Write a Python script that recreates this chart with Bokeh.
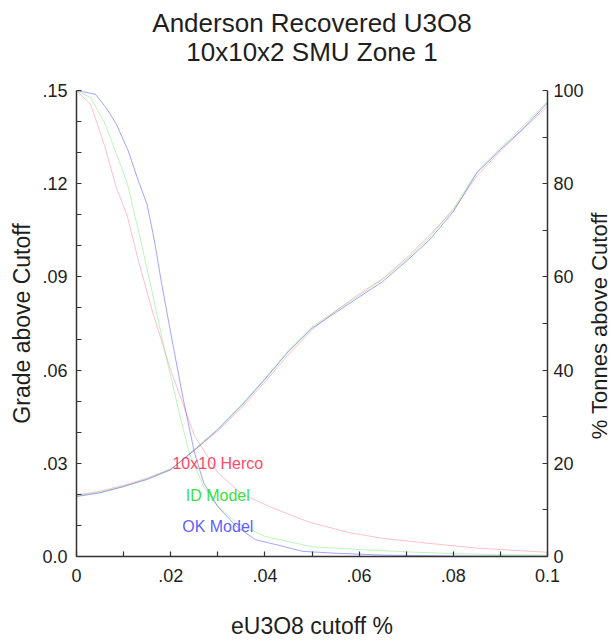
import math
from bokeh.plotting import figure
from bokeh.layouts import row
from bokeh.models import Range1d, LinearAxis, FixedTicker, Title, ColumnDataSource
from bokeh.embed import file_html
from bokeh.resources import INLINE
from bokeh.core.properties import value

# ---------------- data ----------------
x_ticks = [0, 0.02, 0.04, 0.06, 0.08, 0.1]
x_tick_labels = ["0", ".02", ".04", ".06", ".08", "0.1"]
x_minor_ticks = [0.01, 0.03, 0.05, 0.07, 0.09]
grade_ticks = [0, 0.03, 0.06, 0.09, 0.12, 0.15]
grade_tick_labels = ["0.0", ".03", ".06", ".09", ".12", ".15"]
grade_minor_ticks = [0.01, 0.02, 0.04, 0.05, 0.07, 0.08, 0.1, 0.11, 0.13, 0.14]
tonnes_ticks = [0, 20, 40, 60, 80, 100]
tonnes_tick_labels = ["0", "20", "40", "60", "80", "100"]
tonnes_minor_ticks = [10, 30, 50, 70, 90]

# Grade above cutoff (left axis)
grade_cutoff = [0, 0.005, 0.01, 0.015, 0.02, 0.0225, 0.025, 0.0275, 0.03, 0.035, 0.04,
                0.045, 0.05, 0.055, 0.06, 0.065, 0.07, 0.075, 0.08, 0.085, 0.09, 0.095, 0.1]
ok_grade = [0.0193, 0.0205, 0.0225, 0.0248, 0.0279, 0.0310, 0.0342, 0.0375, 0.0408, 0.0485,
            0.0570, 0.0660, 0.0735, 0.0785, 0.0835, 0.0885, 0.0950, 0.1020, 0.1110, 0.1235,
            0.1310, 0.1380, 0.1460]
id_grade = [0.0195, 0.0207, 0.0226, 0.0250, 0.0281, 0.0312, 0.0345, 0.0378, 0.0411, 0.0488,
            0.0573, 0.0664, 0.0740, 0.0790, 0.0840, 0.0892, 0.0955, 0.1028, 0.1120, 0.1238,
            0.1315, 0.1388, 0.1465]
herco_grade = [0.0198, 0.0210, 0.0229, 0.0252, 0.0282, 0.0312, 0.0341, 0.0373, 0.0404, 0.0478,
               0.0562, 0.0650, 0.0730, 0.0790, 0.0845, 0.0895, 0.0960, 0.1035, 0.1115, 0.1225,
               0.1305, 0.1378, 0.1450]

# % Tonnes above cutoff (right axis)
ok_tonnes_cutoff = [0, 0.004, 0.0065, 0.0085, 0.011, 0.013, 0.015, 0.0165, 0.018, 0.02,
                    0.0227, 0.025, 0.027, 0.03, 0.034, 0.038, 0.043, 0.048, 0.055, 0.065,
                    0.08, 0.1]
ok_tonnes = [100, 99.2, 96, 92.7, 87, 81, 75.5, 68, 59, 48, 33.6, 22.5, 15.8, 10.7, 6.4,
             3.6, 2.4, 1.1, 0.7, 0.3, 0.1, 0.05]
id_tonnes_cutoff = [0, 0.003, 0.006, 0.009, 0.0108, 0.0136, 0.016, 0.019, 0.022, 0.024,
                    0.027, 0.03, 0.034, 0.04, 0.05, 0.06, 0.07, 0.08, 0.09, 0.1]
id_tonnes = [100, 98.5, 93, 85, 80, 68, 57, 43, 30, 22, 15, 10.8, 7.2, 4.3, 2.1, 1.5, 1.0,
             0.6, 0.4, 0.3]
herco_tonnes_cutoff = [0, 0.003, 0.006, 0.0085, 0.0108, 0.013, 0.016, 0.02, 0.025, 0.03,
                       0.035, 0.041, 0.049, 0.058, 0.065, 0.075, 0.085, 0.1]
herco_tonnes = [100, 97, 88, 79, 73, 64, 53, 40, 26, 18, 13.5, 10.7, 7.5, 5.1, 3.9, 2.8,
                1.8, 0.9]

series_names = ["10x10 Herco", "ID Model", "OK Model"]
series_colors = ["#ff2d55", "#22dd22", "#4a4aff"]
label_x = [0.03, 0.03, 0.03]
label_y = [0.03, 0.0195, 0.0095]

title_lines = ["Anderson Recovered U3O8", "10x10x2 SMU Zone 1"]
x_label = "eU3O8 cutoff %"
left_label = "Grade above Cutoff"
right_label = "% Tonnes above Cutoff"

# ---------------- main figure ----------------
FONT = "Liberation Sans"
AXIS_COLOR = "#333333"
TEXT_COLOR = "#1e1e1e"
MAIN_W, TOTAL_W, TOTAL_H = 586, 612, 641

p = figure(width=MAIN_W, height=TOTAL_H,
           x_range=Range1d(0, 0.1), y_range=Range1d(0, 0.15),
           output_backend="svg", toolbar_location=None,
           min_border_left=76, min_border_right=39, min_border_top=90, min_border_bottom=84,
           background_fill_color="white", border_fill_color="white")
p.outline_line_color = None
p.grid.visible = False
p.extra_y_ranges = {"tonnes": Range1d(0, 100)}


def style_axis(ax):
    ax.axis_line_color = AXIS_COLOR
    ax.axis_line_width = 1.5
    ax.major_tick_in = 5
    ax.major_tick_out = 0
    ax.minor_tick_in = 5
    ax.minor_tick_out = 0
    ax.major_tick_line_color = AXIS_COLOR
    ax.minor_tick_line_color = AXIS_COLOR
    ax.major_tick_line_width = 1.2
    ax.minor_tick_line_width = 1.2
    ax.major_label_text_font = FONT
    ax.major_label_text_font_size = "18px"
    ax.major_label_text_color = TEXT_COLOR
    ax.axis_label_text_font = FONT
    ax.axis_label_text_font_size = "23px"
    ax.axis_label_text_font_style = "normal"
    ax.axis_label_text_color = TEXT_COLOR


xax = p.xaxis[0]
style_axis(xax)
xax.ticker = FixedTicker(ticks=x_ticks, minor_ticks=x_minor_ticks)
xax.major_label_overrides = dict(zip(x_ticks, x_tick_labels))
xax.major_label_standoff = 12
xax.axis_label = x_label
xax.axis_label_standoff = 28

yax = p.yaxis[0]
style_axis(yax)
yax.ticker = FixedTicker(ticks=grade_ticks, minor_ticks=grade_minor_ticks)
yax.major_label_standoff = 9
yax.major_label_overrides = dict(zip(grade_ticks, grade_tick_labels))
yax.axis_label = left_label
yax.axis_label_standoff = 4

rax = LinearAxis(y_range_name="tonnes")
style_axis(rax)
rax.ticker = FixedTicker(ticks=tonnes_ticks, minor_ticks=tonnes_minor_ticks)
rax.major_label_overrides = dict(zip(tonnes_ticks, tonnes_tick_labels))
rax.major_label_standoff = 6
p.add_layout(rax, "right")

# titles: the first added sits nearest the frame
sub = Title(text=title_lines[1], align="center", text_font=FONT, text_font_size="26px",
            text_font_style="normal", text_color=TEXT_COLOR, standoff=48)
top = Title(text=title_lines[0], align="center", text_font=FONT, text_font_size="26px",
            text_font_style="normal", text_color=TEXT_COLOR, standoff=-54)
p.add_layout(sub, "above")
p.add_layout(top, "above")

grades = [herco_grade, id_grade, ok_grade]
tonnes_x = [herco_tonnes_cutoff, id_tonnes_cutoff, ok_tonnes_cutoff]
tonnes_y = [herco_tonnes, id_tonnes, ok_tonnes]
alphas = [0.3, 0.3, 0.5]

for g, tx, ty, c, a in zip(grades, tonnes_x, tonnes_y, series_colors, alphas):
    p.line(grade_cutoff, g, line_color=c, line_alpha=a, line_width=1)
    p.line(tx, ty, y_range_name="tonnes", line_color=c, line_alpha=a, line_width=1)

src = ColumnDataSource(dict(x=label_x, y=label_y, text=series_names, color=series_colors))
p.text(x="x", y="y", text="text", text_color="color", source=src,
       text_align="center", text_baseline="middle",
       text_font=value(FONT), text_font_size="16px", text_alpha=0.9)

# ---------------- narrow strip carrying the right-hand axis title ----------------
strip_w = TOTAL_W - MAIN_W
q = figure(width=strip_w, height=TOTAL_H,
           x_range=Range1d(0, strip_w), y_range=Range1d(0, TOTAL_H),
           output_backend="svg", toolbar_location=None,
           x_axis_location=None, y_axis_location=None,
           min_border=0, background_fill_color="white", border_fill_color="white")
q.outline_line_color = None
q.grid.visible = False
q.text(x=[strip_w / 2], y=[TOTAL_H - 323.5], text=[right_label], angle=math.pi / 2,
       text_align="center", text_baseline="middle", text_color=TEXT_COLOR,
       text_font=value(FONT), text_font_size="22px")

layout = row(p, q, spacing=0)
open("out.html", "w").write(file_html(layout, INLINE))
